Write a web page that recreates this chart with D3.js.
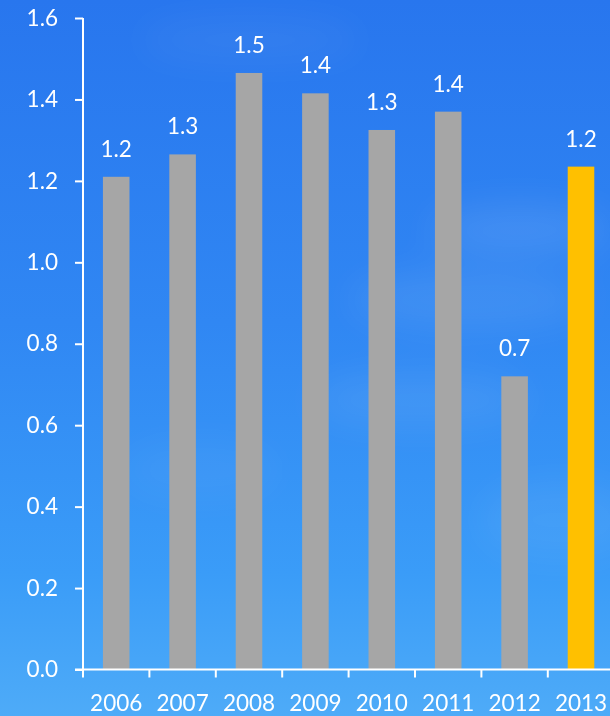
<!DOCTYPE html>
<html>
<head>
<meta charset="utf-8">
<script src="https://cdn.jsdelivr.net/npm/d3@7"></script>
<style>
  html, body { margin: 0; padding: 0; background: #2f80ef; }
  svg { display: block; }
  text { font-family: Lato, "Open Sans", sans-serif; fill: #ffffff; }
</style>
</head>
<body>
<script>
// Annual values, 2006–2013
const years = ["2006", "2007", "2008", "2009", "2010", "2011", "2012", "2013"];
const values = [1.21, 1.265, 1.465, 1.415, 1.325, 1.37, 0.72, 1.235];
const yTicks = [0, 0.2, 0.4, 0.6, 0.8, 1.0, 1.2, 1.4, 1.6];
const highlightYear = "2013";

const W = 610, H = 716;
const x0 = 83, plotTop = 18, plotBottom = 669.5;
const bandW = 66.4;
const fontSize = 22.5;

const svg = d3.select("body").append("svg")
  .attr("width", W).attr("height", H);

// Sky background
const defs = svg.append("defs");
const sky = defs.append("linearGradient").attr("id", "sky")
  .attr("x1", 0).attr("y1", 0).attr("x2", 0).attr("y2", 1);
sky.append("stop").attr("offset", "0%").attr("stop-color", "#2876ee");
sky.append("stop").attr("offset", "45%").attr("stop-color", "#3087f3");
sky.append("stop").attr("offset", "80%").attr("stop-color", "#3a9cf8");
sky.append("stop").attr("offset", "100%").attr("stop-color", "#4eabf8");
svg.append("rect").attr("width", W).attr("height", H).attr("fill", "url(#sky)");

// Faint clouds
const blur = defs.append("filter").attr("id", "soft")
  .attr("x", "-50%").attr("y", "-50%").attr("width", "200%").attr("height", "200%");
blur.append("feGaussianBlur").attr("stdDeviation", 18);
const clouds = [
  {cx: 520, cy: 230, rx: 90, ry: 25, o: 0.10},
  {cx: 470, cy: 300, rx: 120, ry: 30, o: 0.08},
  {cx: 420, cy: 400, rx: 110, ry: 28, o: 0.07},
  {cx: 250, cy: 40, rx: 110, ry: 22, o: 0.05},
  {cx: 560, cy: 520, rx: 80, ry: 40, o: 0.06},
  {cx: 200, cy: 470, rx: 80, ry: 30, o: 0.04}
];
svg.append("g").attr("filter", "url(#soft)")
  .selectAll("ellipse").data(clouds).join("ellipse")
  .attr("cx", d => d.cx).attr("cy", d => d.cy)
  .attr("rx", d => d.rx).attr("ry", d => d.ry)
  .attr("fill", "#ffffff").attr("opacity", d => d.o);

// Scales
const x = d3.scaleBand().domain(years)
  .range([x0, x0 + bandW * years.length])
  .paddingInner(0.6).paddingOuter(0.3);
const xb = d3.scaleBand().domain(years).range([x0, x0 + bandW * years.length]);
const y = d3.scaleLinear().domain([0, 1.6]).range([plotBottom, plotTop]);

// Bars
svg.append("g").selectAll("rect").data(years).join("rect")
  .attr("x", d => x(d))
  .attr("width", x.bandwidth())
  .attr("y", (d, i) => y(values[i]))
  .attr("height", (d, i) => y(0) - y(values[i]))
  .attr("fill", d => d === highlightYear ? "#ffc000" : "#a6a6a6");

// Value labels
const fmt = d3.format(".1f");
svg.append("g").selectAll("text").data(years).join("text")
  .attr("x", d => x(d) + x.bandwidth() / 2)
  .attr("y", (d, i) => y(values[i]) - 20)
  .attr("text-anchor", "middle")
  .attr("font-size", fontSize)
  .text((d, i) => fmt(values[i]));

// Y axis
const yAxis = svg.append("g")
  .attr("transform", `translate(${x0},0)`)
  .call(d3.axisLeft(y).tickValues(yTicks).tickFormat(d3.format(".1f"))
    .tickSize(8).tickPadding(17));
yAxis.select(".domain").attr("stroke", "#fff").attr("stroke-width", 2)
  .attr("d", `M0,${plotTop}V${plotBottom}`);
yAxis.selectAll(".tick line").attr("stroke", "#fff").attr("stroke-width", 2);
yAxis.selectAll(".tick text").attr("font-size", fontSize).attr("fill", "#fff")
  .attr("font-family", "Lato, 'Open Sans', sans-serif");

// X axis: ticks at category boundaries, labels centred in each band
const xg = svg.append("g").attr("transform", `translate(0,${plotBottom})`);
xg.append("line").attr("x1", x0 - 8).attr("x2", W)
  .attr("stroke", "#fff").attr("stroke-width", 2);
xg.selectAll("line.tk").data(years).join("line").attr("class", "tk")
  .attr("x1", d => xb(d)).attr("x2", d => xb(d))
  .attr("y1", 0).attr("y2", 8)
  .attr("stroke", "#fff").attr("stroke-width", 2);
xg.selectAll("text").data(years).join("text")
  .attr("x", d => xb(d) + xb.bandwidth() / 2)
  .attr("y", 41.5)
  .attr("text-anchor", "middle")
  .attr("font-size", fontSize)
  .text(d => d);
</script>
</body>
</html>
